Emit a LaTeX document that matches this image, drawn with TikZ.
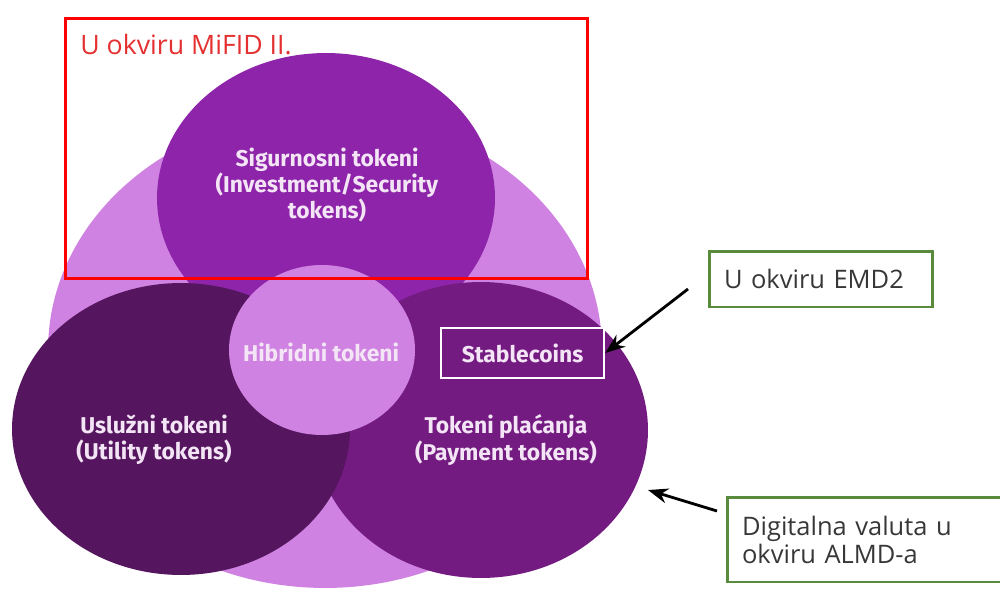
\documentclass[tikz,border=0pt]{standalone}
\usepackage{fontspec}
\setmainfont{Fira Sans}
\newfontfamily\notefont{Open Sans}
\usetikzlibrary{arrows.meta,positioning,shapes.geometric}
\definecolor{lilac}{RGB}{207,130,225}
\definecolor{securitypurple}{RGB}{142,36,170}
\definecolor{paymentpurple}{RGB}{116,27,130}
\definecolor{utilitypurple}{RGB}{86,22,95}
\definecolor{labeltext}{RGB}{243,229,245}
\definecolor{mifidred}{RGB}{255,0,0}
\definecolor{mifidtext}{RGB}{228,48,48}
\definecolor{notegreen}{RGB}{88,140,60}
\definecolor{notetext}{RGB}{55,55,55}

\begin{document}
\begin{tikzpicture}[
		x=0.02cm,y=-0.02cm,
		blob/.style={ellipse,draw=none,inner sep=0pt,outer sep=0pt},
		lbl/.style={text=labeltext,font=\bfseries\fontsize{13}{15}\selectfont,align=center},
		note/.style={draw=notegreen,line width=1.7pt,text=notetext,font=\notefont\fontsize{14.5}{16}\selectfont,align=left,inner xsep=0.3cm,inner ysep=0pt},
		pointer/.style={-{Stealth[length=4mm,width=3mm]},line width=1.6pt}
	]
	\useasboundingbox (0,0) rectangle (1000,588);
	% circles, back to front
	\node[blob,fill=lilac,minimum width=11.08cm,minimum height=9.52cm] (all) at (325,350) {};
	\node[blob,fill=securitypurple,minimum width=6.76cm,minimum height=5.8cm] (security) at (326,198) {};
	\node[blob,fill=paymentpurple,minimum width=6.68cm,minimum height=5.92cm] (payment) at (481,430) {};
	\node[blob,fill=utilitypurple,minimum width=6.76cm,minimum height=5.84cm] (utility) at (181,429) {};
	\node[blob,fill=lilac,minimum width=3.72cm,minimum height=3.4cm] (hybrid) at (322,350) {};

	\node[lbl] (securitytxt) at (327,185) {Sigurnosni tokeni\\(Investment/Security\\tokens)};
	\node[lbl] (utilitytxt) at (154,440) {Uslužni tokeni\\(Utility tokens)};
	\node[lbl] (paymenttxt) at (506,440) {Tokeni plaćanja\\(Payment tokens)};
	\node[lbl] (hybridtxt) at (321,352) {Hibridni tokeni};
	\node[lbl,draw=white,line width=1.4pt,minimum width=3.26cm,minimum height=1cm] (stable) at (522.5,353) {Stablecoins};

	\node[draw=mifidred,line width=1.7pt,minimum width=10.46cm,minimum height=5.22cm] (mifid) at (326.5,148.5) {};
	\node[anchor=west,text=mifidtext,font=\notefont\fontsize{15.2}{16}\selectfont,inner sep=0pt] (mifidtxt) at (80,45) {U okviru MiFID II.};

	\node[note,text width=3.88cm,minimum height=1.12cm] (emd) at (821,279) {U okviru EMD2};
	\node[note,text width=5.06cm,minimum height=1.7cm] (almd) at (868.5,539.5) {Digitalna valuta u\\okviru ALMD-a};

	\coordinate (emdtail) at (688,289);
	\coordinate (almdtail) at (717,511);
	\coordinate (almdtip) at (648,490);
	\draw[pointer] (emdtail) -- (stable.east);
	\draw[pointer] (almdtail) -- (almdtip);
\end{tikzpicture}
\end{document}
